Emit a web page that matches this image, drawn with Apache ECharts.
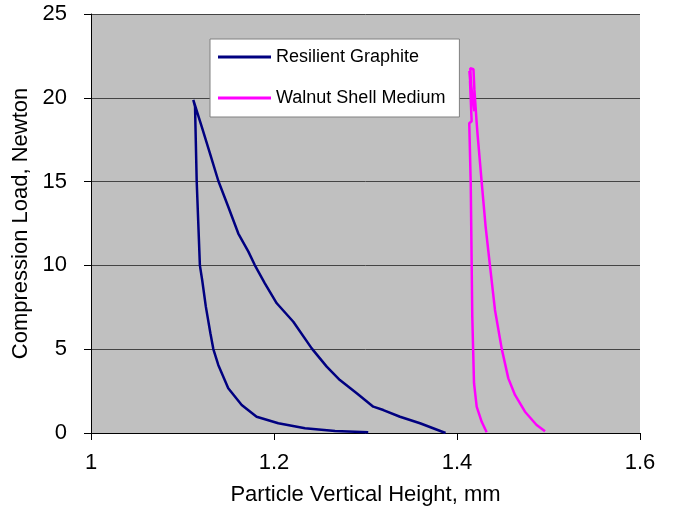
<!DOCTYPE html>
<html>
<head>
<meta charset="utf-8">
<script src="https://cdn.jsdelivr.net/npm/echarts@6/dist/echarts.min.js"></script>
<style>
  html, body { margin: 0; padding: 0; background: #fff; }
  #chart { width: 673px; height: 514px; }
</style>
</head>
<body>
<div id="chart"></div>
<script>
// Resilient Graphite: loading (right branch, up to peak), then unloading (left branch)
const graphiteX = [1.3875, 1.3869, 1.3596, 1.3377, 1.3195, 1.3085, 1.2904, 1.272, 1.2576, 1.2412, 1.2211, 1.203, 1.190, 1.179,
  1.172, 1.161, 1.150, 1.1391, 1.130, 1.121, 1.1118,
  1.1137, 1.1155, 1.119, 1.1215, 1.1255, 1.1305, 1.1337, 1.1391, 1.150, 1.1647, 1.181, 1.2047, 1.2339, 1.2667, 1.303]
const graphiteY = [0.0, 0.08, 0.58, 0.97, 1.37, 1.57, 2.37, 3.16, 3.96, 5.05, 6.64, 7.74, 8.93, 10.02,
  10.82, 11.9, 13.5, 15.05, 16.69, 18.28, 19.87,
  19.47, 15.05, 10.0, 9.13, 7.54, 5.95, 5.01, 4.06, 2.67, 1.67, 0.97, 0.58, 0.28, 0.12, 0.04]

// Walnut Shell Medium: loading branch, jagged peak, unloading branch
const walnutX = [1.4962, 1.487, 1.4743, 1.4634, 1.4561, 1.4488, 1.4415, 1.436, 1.4313, 1.427, 1.4233, 1.4225, 1.4215,
  1.419, 1.418, 1.4145, 1.4165, 1.4135, 1.419, 1.4142, 1.416, 1.4134,
  1.415, 1.4167, 1.4186, 1.4215, 1.427, 1.4324]
const walnutY = [0.1, 0.48, 1.27, 2.27, 3.26, 5.05, 7.34, 10.0, 12.3, 14.95, 17.29, 17.8, 18.5,
  20.5, 21.7, 21.76, 19.6, 21.6, 19.2, 21.0, 18.6, 18.48,
  14.9, 6.94, 2.97, 1.57, 0.67, 0.05]

const seriesNames = ['Resilient Graphite', 'Walnut Shell Medium']
const xTicks = { min: 1, max: 1.6, interval: 0.2 }
const yTicks = { min: 0, max: 25, interval: 5 }

const pairs = (xs, ys) => xs.map((x, i) => [x, ys[i]])

const chart = echarts.init(document.getElementById('chart'))
const font = 'Arial, "Liberation Sans", sans-serif'

chart.setOption({
  animation: false,
  color: ['#000080', '#ff00ff'],
  textStyle: { fontFamily: font },
  grid: {
    left: 91,
    right: 33,
    top: 14,
    bottom: 81,
    show: true,
    backgroundColor: '#c0c0c0',
    borderWidth: 0
  },
  legend: {
    orient: 'vertical',
    left: 210,
    top: 39,
    padding: [8, 14, 9, 8],
    itemGap: 21,
    itemWidth: 53,
    itemHeight: 3,
    icon: 'rect',
    backgroundColor: '#fff',
    borderColor: '#808080',
    borderWidth: 1,
    textStyle: { fontSize: 18, color: '#000', lineHeight: 20, fontFamily: font },
    data: seriesNames
  },
  xAxis: {
    type: 'value',
    min: xTicks.min,
    max: xTicks.max,
    interval: xTicks.interval,
    name: 'Particle Vertical Height, mm',
    nameLocation: 'middle',
    nameGap: 51,
    nameTextStyle: { fontSize: 22, color: '#000' },
    axisLine: { show: true, onZero: false, lineStyle: { color: '#000', width: 1 } },
    axisTick: { show: true, inside: false, length: 7, lineStyle: { color: '#000' } },
    axisLabel: { fontSize: 22, color: '#000', margin: 19 },
    splitLine: { show: false }
  },
  yAxis: {
    type: 'value',
    min: yTicks.min,
    max: yTicks.max,
    interval: yTicks.interval,
    name: 'Compression Load, Newton',
    nameLocation: 'middle',
    nameGap: 57,
    nameTextStyle: { fontSize: 22, color: '#000' },
    axisLine: { show: true, lineStyle: { color: '#000', width: 1 } },
    axisTick: { show: true, inside: false, length: 7, lineStyle: { color: '#000' } },
    axisLabel: { fontSize: 22, color: '#000', margin: 24 },
    splitLine: { show: true, lineStyle: { color: '#444', width: 1 } }
  },
  series: [
    {
      name: seriesNames[0],
      type: 'line',
      showSymbol: false,
      lineStyle: { width: 2.5, color: '#000080' },
      data: pairs(graphiteX, graphiteY)
    },
    {
      name: seriesNames[1],
      type: 'line',
      showSymbol: false,
      lineStyle: { width: 2.5, color: '#ff00ff' },
      data: pairs(walnutX, walnutY)
    }
  ]
})
</script>
</body>
</html>
